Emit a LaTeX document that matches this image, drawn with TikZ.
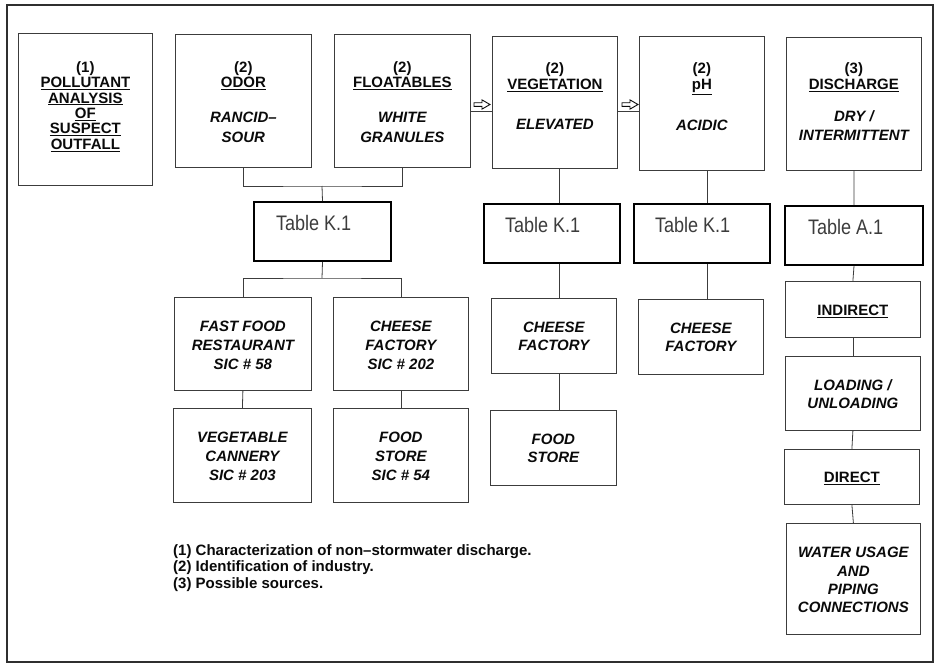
\documentclass[tikz,border=0pt]{standalone}
\usepackage{fontspec}
\setmainfont{Liberation Sans}
\newfontfamily\tabfont[FakeStretch=0.86]{Liberation Sans}
\definecolor{ink}{RGB}{10,10,10}
\definecolor{linecol}{RGB}{60,60,60}
\definecolor{tabgray}{RGB}{60,60,60}
\newcommand\ul[1]{\underline{#1}}
% box text: width, height, first-baseline offset from top, content
\newcommand\bxt[4]{\parbox[c][#2pt][t]{#1pt}{\fontsize{15}{15.4}\selectfont\bfseries\centering\vspace*{\dimexpr #3pt-11pt\relax}#4\par}}
\newcommand\tbt[3]{\parbox[c][#2pt][t]{#1pt}{\fontsize{21}{24}\tabfont\color{tabgray}\vspace*{13.7pt}\noindent\hspace*{#3pt}Table K.1\par}}
\newcommand\tbtA[3]{\parbox[c][#2pt][t]{#1pt}{\fontsize{21}{24}\tabfont\color{tabgray}\vspace*{13.7pt}\noindent\hspace*{#3pt}Table A.1\par}}
\tikzset{
  bx/.style={draw=linecol, line width=0.8pt, inner sep=0pt, anchor=north west, text=ink},
  tbx/.style={draw=black, line width=2pt, inner sep=0pt, anchor=north west},
  conn/.style={draw=linecol, line width=0.8pt},
  hollowarrow/.pic={\draw[ink, line width=0.9pt, line join=miter] (0,-1.8) -- (8,-1.8) -- (8,-4.6) -- (16,0) -- (8,4.6) -- (8,1.8) -- (0,1.8) -- cycle;}
}
\begin{document}
\begin{tikzpicture}[x=1pt,y=-1pt]
\useasboundingbox (0,0) rectangle (938,664);
\fill[white] (0,0) rectangle (938,664);
\draw[draw=ink!85, line width=1.6pt] (7,5) rectangle (933,662);

% top row
\node[bx] (b1) at (18,33) {\bxt{134}{152}{39}{(1)\\\ul{POLLUTANT}\\\ul{ANALYSIS}\\\ul{OF}\\\ul{SUSPECT}\\\ul{OUTFALL}}};
\node[bx] (b2) at (175,34) {\bxt{136}{133}{38}{(2)\\\ul{ODOR}\\[19.2pt]\itshape RANCID–\\[4.9pt]\itshape SOUR}};
\node[bx] (b3) at (334,34) {\bxt{136}{133}{38}{(2)\\\ul{FLOATABLES}\\[19.2pt]\itshape WHITE\\[4.9pt]\itshape GRANULES}};
\node[bx] (b4) at (492,36) {\bxt{125}{132}{37.7}{(2)\\\ul{VEGETATION}\\[24.6pt]\itshape ELEVATED}};
\node[bx] (b5) at (639,36) {\bxt{125}{134}{37.7}{(2)\\\ul{pH}\\[24.6pt]\itshape ACIDIC}};
\node[bx] (b6) at (786,37) {\bxt{135}{133}{36.7}{(3)\\\ul{DISCHARGE}\\[17.2pt]\itshape DRY /\\[3.6pt]\itshape INTERMITTENT}};

% table boxes
\node[tbx] (t1) at (253,201) {\tbt{137}{59}{22}};
\node[tbx] (t2) at (483,203) {\tbt{136}{59}{21}};
\node[tbx] (t3) at (633,203) {\tbt{136}{59}{21}};
\node[tbx] (ta) at (784,205) {\tbtA{138}{59}{23}};

% lower boxes
\node[bx] (ff) at (174,297) {\bxt{137}{93}{34.5}{\itshape FAST FOOD\\[3.6pt]\itshape RESTAURANT\\[3.6pt]SIC \# 58}};
\node[bx] (cf1) at (333,297) {\bxt{135}{93}{34.5}{\itshape CHEESE\\[3.6pt]\itshape FACTORY\\[3.6pt]SIC \# 202}};
\node[bx] (vc) at (173,408) {\bxt{138}{94}{35}{\itshape VEGETABLE\\[3.6pt]\itshape CANNERY\\[3.1pt]SIC \# 203}};
\node[bx] (fs1) at (333,408) {\bxt{135}{94}{35}{\itshape FOOD\\[3.6pt]\itshape STORE\\[3.1pt]SIC \# 54}};
\node[bx] (cf2) at (491,298) {\bxt{125}{75}{35}{\itshape CHEESE\\[2.6pt]\itshape FACTORY}};
\node[bx] (fs2) at (490,410) {\bxt{126}{75}{34.6}{\itshape FOOD\\[3pt]\itshape STORE}};
\node[bx] (cf3) at (638,299) {\bxt{125}{75}{35}{\itshape CHEESE\\[2.6pt]\itshape FACTORY}};
\node[bx] (ind) at (785,281) {\bxt{135}{56}{35}{\ul{INDIRECT}}};
\node[bx] (ld) at (785,356) {\bxt{135}{74}{34.3}{\itshape LOADING /\\[3pt]\itshape UNLOADING}};
\node[bx] (dir) at (784,449) {\bxt{135}{55}{33.7}{\ul{DIRECT}}};
\node[bx] (wu) at (786,523) {\bxt{134}{111}{34.5}{\itshape WATER USAGE\\[4.1pt]\itshape AND\\[2.6pt]\itshape PIPING\\[2.6pt]\itshape CONNECTIONS}};

% legend (base anchor = baseline of last line)
\node[anchor=base west, align=left, inner sep=0pt, text=ink, font=\fontsize{15}{16.3}\selectfont\bfseries] (legend) at (173,588)
  {(1) Characterization of non–stormwater discharge.\\(2) Identification of industry.\\(3) Possible sources.};

% connectors
\coordinate (j1) at (322,186);
\coordinate (j2) at (322,278);
\coordinate (hy) at (0,111);
\coordinate (vx) at (559,0);
\coordinate (px) at (707,0);
\draw[conn] (b2.south) |- (j1) -| (b3.south);
\draw[conn] (j1) -- (t1.north);
\draw[conn] (t1.south) -- (j2);
\draw[conn] (ff.north) |- (j2) -| (cf1.north);
\draw[conn] (ff.south) -- (vc.north);
\draw[conn] (cf1.south) -- (fs1.north);
\draw[conn] (b3.east |- hy) -- (b4.west |- hy);
\draw[conn] (b4.east |- hy) -- (b5.west |- hy);
\draw[conn] (b4.south -| vx) -- (t2.north -| vx);
\draw[conn] (t2.south -| vx) -- (cf2.north -| vx);
\draw[conn] (cf2.south -| vx) -- (fs2.north -| vx);
\draw[conn] (b5.south -| px) -- (t3.north -| px);
\draw[conn] (t3.south -| px) -- (cf3.north -| px);
\draw[conn] (b6.south) -- (ta.north);
\draw[conn] (ta.south) -- (ind.north);
\draw[conn] (ind.south) -- (ld.north);
\draw[conn] (ld.south) -- (dir.north);
\draw[conn] (dir.south) -- (wu.north);

% hollow arrow marks
\pic at (474,104.5) {hollowarrow};
\pic at (622,104.5) {hollowarrow};
\end{tikzpicture}
\end{document}
